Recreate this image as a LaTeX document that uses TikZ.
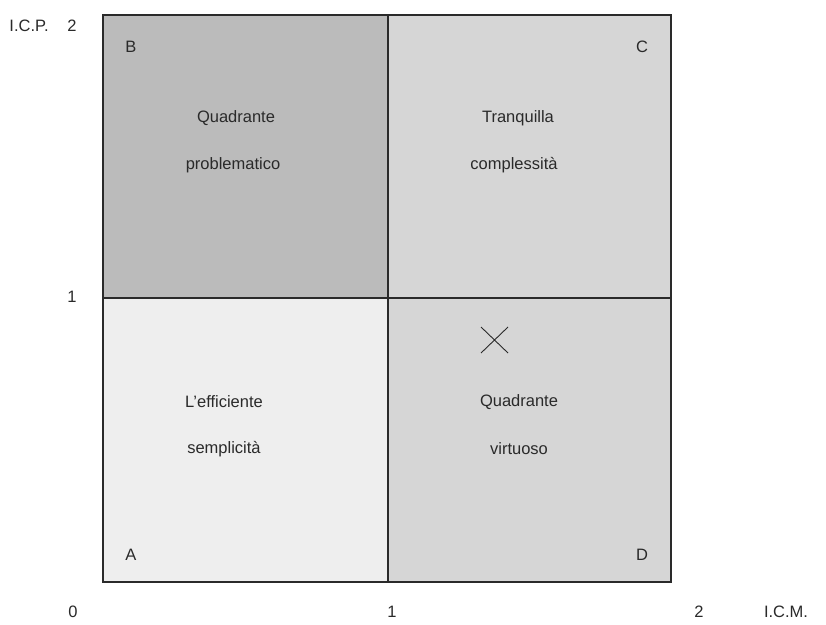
\documentclass[tikz,border=0pt]{standalone}
\usepackage{fontspec}
\setmainfont{Liberation Sans}
\definecolor{qB}{HTML}{BBBBBB}
\definecolor{qC}{HTML}{D6D6D6}
\definecolor{qA}{HTML}{EEEEEE}
\definecolor{qD}{HTML}{D6D6D6}
\definecolor{ink}{HTML}{2A2A2A}
\begin{document}
\begin{tikzpicture}[x=1pt,y=-1pt,
  lbl/.style={inner sep=0pt,text=ink,font=\fontsize{16.5}{19}\selectfont},
  frame/.style={draw=ink,line width=1.3pt}]
\useasboundingbox[fill=white] (0,0) rectangle (826,624);
\coordinate (TL) at (103,15);
\coordinate (BR) at (671,582);
\coordinate (M) at (388,298);
\fill[qB] (103,15) rectangle (388,298);
\fill[qC] (388,15) rectangle (671,298);
\fill[qA] (103,298) rectangle (388,582);
\fill[qD] (388,298) rectangle (671,582);
\draw[frame] (TL) rectangle (BR);
\draw[frame] (388,15) -- (388,582);
\draw[frame] (103,298) -- (671,298);
% cross
\draw[ink,line width=0.9pt] (481,327) -- (508,353) (481,353) -- (508,327);
% corner letters
\node[lbl] (B) at (131,47) {B};
\node[lbl] (C) at (642,47) {C};
\node[lbl] (A) at (131,555) {A};
\node[lbl] (D) at (642,555) {D};
% quadrant texts
\node[lbl] (b1) at (236,118) {Quadrante};
\node[lbl] (b2) at (233,165) {problematico};
\node[lbl] (c1) at (518,118) {Tranquilla};
\node[lbl] (c2) at (514,165) {complessità};
\node[lbl] (a1) at (224,402) {L'efficiente};
\node[lbl] (a2) at (224,449) {semplicità};
\node[lbl] (d1) at (519,402) {Quadrante};
\node[lbl] (d2) at (519,449) {virtuoso};
% axis labels
\node[lbl] (icp) at (29,26) {I.C.P.};
\node[lbl] (y2) at (72,26) {2};
\node[lbl] (y1) at (72,297) {1};
\node[lbl] (x0) at (73,612) {0};
\node[lbl] (x1) at (392,612) {1};
\node[lbl] (x2) at (699,612) {2};
\node[lbl] (icm) at (786,612) {I.C.M.};
\end{tikzpicture}
\end{document}
